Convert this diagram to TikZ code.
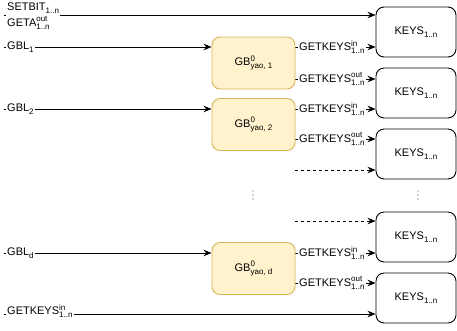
\documentclass[tikz,border=0pt]{standalone}
\usepackage{fontspec}
\setmainfont{Liberation Sans}
\usetikzlibrary{arrows.meta}
\pgfdeclarelayer{bg}
\pgfsetlayers{bg,main}
\definecolor{gbfill}{HTML}{FFF2CC}
\definecolor{gbline}{HTML}{D6B656}
% subscript only
\newcommand{\lo}[1]{\lower3pt\hbox{\fontsize{8}{8}\selectfont #1}}
% stacked superscript and subscript
\newcommand{\hilo}[2]{{\fontsize{8}{8}\selectfont
  \setbox0=\hbox{#1}\setbox2=\hbox{#2}%
  \dimen0=\wd0 \ifdim\wd2>\dimen0 \dimen0=\wd2 \fi
  \rlap{\raise4.5pt\box0}\lower3pt\hbox to\dimen0{\box2\hss}}}
\begin{document}
\begin{tikzpicture}[x=1pt,y=-1pt,
  keys/.style={draw=black, rounded corners=8pt, minimum width=80pt,
    minimum height=50pt, line width=0.9pt, fill=white, inner sep=0pt,
    font=\fontsize{11}{13}\selectfont},
  gb/.style={draw=gbline, fill=gbfill, rounded corners=8pt, minimum width=83pt,
    minimum height=52pt, line width=0.9pt, inner sep=0pt,
    font=\fontsize{11}{13}\selectfont},
  lbl/.style={fill=white, inner sep=1pt, anchor=west,
    font=\fontsize{11}{13}\selectfont},
  link/.style={line width=0.9pt, -{Stealth[length=8pt,width=6.5pt]}},
  dashlink/.style={link, dash pattern=on 3pt off 3pt}]
\useasboundingbox (0,0) rectangle (457,330);

% key stores
\node[keys] (k1) at (416,32)  {KEYS\lo{1..n}};
\node[keys] (k2) at (416,93)  {KEYS\lo{1..n}};
\node[keys] (k3) at (416,154) {KEYS\lo{1..n}};
\node[keys] (k4) at (416,237) {KEYS\lo{1..n}};
\node[keys] (k5) at (416,298) {KEYS\lo{1..n}};

% garbled blocks
\node[gb] (g1) at (253.5,63)    {GB\hilo{0}{yao, 1}};
\node[gb] (g2) at (253.5,124.5) {GB\hilo{0}{yao, 2}};
\node[gb] (gd) at (253.5,268.5) {GB\hilo{0}{yao, d}};

% free ends and row heights
\coordinate (a0) at (4,15);
\coordinate (a1) at (4,47);
\coordinate (a2) at (4,109);
\coordinate (ad) at (4,253);
\coordinate (ab) at (4,314);
\coordinate (o1) at (0,79);
\coordinate (o2) at (0,139);
\coordinate (od) at (0,283);
\coordinate (e1) at (0,170);
\coordinate (e2) at (0,221);

\begin{pgfonlayer}{bg}
  \draw[link] (a0) -- (a0 -| k1.west);
  \draw[link] (a1) -- (a1 -| g1.west);
  \draw[link] (a2) -- (a2 -| g2.west);
  \draw[link] (ad) -- (ad -| gd.west);
  \draw[link] (ab) -- (ab -| k5.west);
  \draw[link] (g1.east |- a1) -- (k1.west |- a1);
  \draw[link] (g1.east |- o1) -- (k2.west |- o1);
  \draw[link] (g2.east |- a2) -- (k2.west |- a2);
  \draw[link] (g2.east |- o2) -- (k3.west |- o2);
  \draw[link] (gd.east |- ad) -- (k4.west |- ad);
  \draw[link] (gd.east |- od) -- (k5.west |- od);
  \draw[dashlink] (g2.east |- e1) -- (k3.west |- e1);
  \draw[dashlink] (g2.east |- e2) -- (k4.west |- e2);
\end{pgfonlayer}

% input labels
\node[lbl, align=left, font=\fontsize{11}{16}\selectfont] (setbit) at (6,16)
  {SETBIT\lo{1..n}\\GETA\hilo{out}{1..n}};
\node[lbl] (gbl1) at (6,47.5)  {GBL\lo{1}};
\node[lbl] (gbl2) at (6,109.5) {GBL\lo{2}};
\node[lbl] (gbld) at (6,253.5) {GBL\lo{d}};
\node[lbl] (gkin) at (6,311)   {GETKEYS\hilo{in}{1..n}};

% output labels
\node[lbl] (i1) at (298,47)  {GETKEYS\hilo{in}{1..n}};
\node[lbl] (u1) at (298,79)  {GETKEYS\hilo{out}{1..n}};
\node[lbl] (i2) at (298,109) {GETKEYS\hilo{in}{1..n}};
\node[lbl] (u2) at (298,139) {GETKEYS\hilo{out}{1..n}};
\node[lbl] (id) at (298,253) {GETKEYS\hilo{in}{1..n}};
\node[lbl] (ud) at (298,283) {GETKEYS\hilo{out}{1..n}};

% vertical ellipses
\foreach \x in {253,418}
  \foreach \y in {191,195,199}
    \fill[black!70] (\x,\y) circle (0.7pt);
\end{tikzpicture}
\end{document}
